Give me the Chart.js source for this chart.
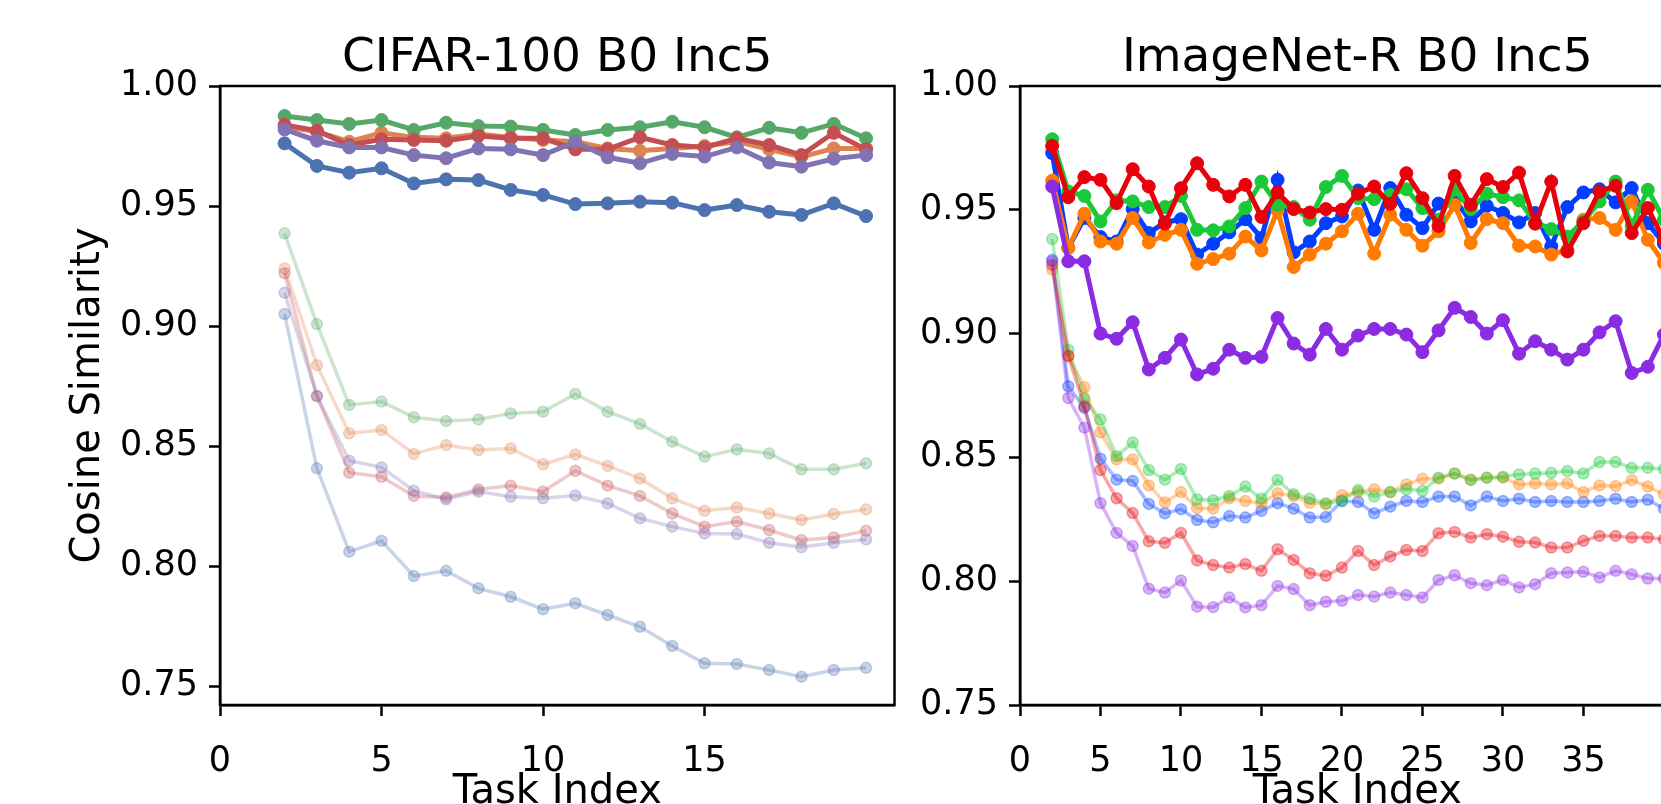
<!DOCTYPE html>
<html>
<head>
<meta charset="utf-8">
<script src="https://cdn.jsdelivr.net/npm/chart.js@4.4.1/dist/chart.umd.min.js"></script>
<style>
    html, body { margin: 0; padding: 0; background: #fff; overflow: hidden; width: 1661px; height: 804px; }
    canvas { position: absolute; top: 0; }
    #cifarChart { left: 0; }
    #imnetChart { left: 910px; }
</style>
</head>
<body>
<canvas id="cifarChart" width="910" height="804"></canvas>
<canvas id="imnetChart" width="840" height="804"></canvas>
<script>
// ---- data ----
const cifarTasks = [2, 3, 4, 5, 6, 7, 8, 9, 10, 11, 12, 13, 14, 15, 16, 17, 18, 19, 20];
const imnetTasks = [2, 3, 4, 5, 6, 7, 8, 9, 10, 11, 12, 13, 14, 15, 16, 17, 18, 19, 20, 21,
                    22, 23, 24, 25, 26, 27, 28, 29, 30, 31, 32, 33, 34, 35, 36, 37, 38, 39, 40];

const yTicks = [0.75, 0.80, 0.85, 0.90, 0.95, 1.00];
const cifarXTicks = [0, 5, 10, 15];
const imnetXTicks = [0, 5, 10, 15, 20, 25, 30, 35];

// CIFAR-100, current task (solid)
const cifarBlue   = [0.9761, 0.9667, 0.9639, 0.9657, 0.9594, 0.9611, 0.9608, 0.9567, 0.9546, 0.9508, 0.9511, 0.9518, 0.9514, 0.9483, 0.9504, 0.9476, 0.9463, 0.9511, 0.9458];
const cifarOrange = [0.9830, 0.9810, 0.9768, 0.9805, 0.9786, 0.9782, 0.9800, 0.9786, 0.9775, 0.9768, 0.9740, 0.9730, 0.9740, 0.9750, 0.9768, 0.9736, 0.9705, 0.9740, 0.9740];
const cifarGreen  = [0.9875, 0.9858, 0.9842, 0.9858, 0.9817, 0.9847, 0.9833, 0.9831, 0.9817, 0.9796, 0.9817, 0.9828, 0.9851, 0.9828, 0.9786, 0.9826, 0.9805, 0.9842, 0.9782];
const cifarRed    = [0.9838, 0.9814, 0.9754, 0.9778, 0.9775, 0.9772, 0.9792, 0.9782, 0.9782, 0.9736, 0.9736, 0.9786, 0.9754, 0.9744, 0.9782, 0.9754, 0.9712, 0.9805, 0.9736];
const cifarPurple = [0.9819, 0.9772, 0.9744, 0.9744, 0.9712, 0.9699, 0.9740, 0.9736, 0.9712, 0.9768, 0.9703, 0.9678, 0.9717, 0.9706, 0.9744, 0.9681, 0.9664, 0.9697, 0.9712];

// CIFAR-100, faded series
const cifarBlueOld   = [0.9050, 0.8407, 0.8060, 0.8105, 0.7958, 0.7980, 0.7907, 0.7872, 0.7820, 0.7845, 0.7796, 0.7747, 0.7667, 0.7595, 0.7592, 0.7567, 0.7539, 0.7567, 0.7576];
const cifarOrangeOld = [0.9240, 0.8837, 0.8553, 0.8567, 0.8467, 0.8504, 0.8483, 0.8490, 0.8424, 0.8465, 0.8417, 0.8365, 0.8282, 0.8230, 0.8244, 0.8219, 0.8192, 0.8217, 0.8236];
const cifarGreenOld  = [0.9386, 0.9008, 0.8671, 0.8685, 0.8620, 0.8604, 0.8611, 0.8636, 0.8643, 0.8717, 0.8643, 0.8592, 0.8518, 0.8456, 0.8486, 0.8469, 0.8403, 0.8403, 0.8428];
const cifarRedOld    = [0.9220, 0.8708, 0.8389, 0.8372, 0.8292, 0.8286, 0.8319, 0.8335, 0.8310, 0.8397, 0.8335, 0.8292, 0.8219, 0.8164, 0.8185, 0.8150, 0.8108, 0.8119, 0.8147];
const cifarPurpleOld = [0.9139, 0.8708, 0.8439, 0.8411, 0.8314, 0.8278, 0.8310, 0.8289, 0.8282, 0.8294, 0.8261, 0.8199, 0.8164, 0.8136, 0.8133, 0.8097, 0.8078, 0.8097, 0.8111];

// ImageNet-R, current task (solid)
const imnetBlue = [0.9729, 0.9346, 0.9467, 0.9390, 0.9372, 0.9503, 0.9406, 0.9449, 0.9462, 0.9319, 0.9363, 0.9409,
                   0.9462, 0.9386, 0.9621, 0.9328, 0.9372, 0.9446, 0.9473, 0.9578, 0.9419, 0.9588, 0.9480, 0.9426, 0.9525,
                   0.9543, 0.9453, 0.9516, 0.9487, 0.9449, 0.9487, 0.9352, 0.9511, 0.9570, 0.9583, 0.9530, 0.9588, 0.9446, 0.9363];
const imnetOrange = [0.9618, 0.9346, 0.9484, 0.9372, 0.9363, 0.9467, 0.9368, 0.9399, 0.9419, 0.9282, 0.9301, 0.9323,
                     0.9392, 0.9336, 0.9497, 0.9269, 0.9319, 0.9363, 0.9413, 0.9484, 0.9323, 0.9480, 0.9419, 0.9355, 0.9413,
                     0.9520, 0.9366, 0.9462, 0.9446, 0.9355, 0.9352, 0.9319, 0.9339, 0.9460, 0.9467, 0.9419, 0.9534, 0.9379, 0.9285];
const imnetGreen = [0.9785, 0.9574, 0.9556, 0.9453, 0.9538, 0.9534, 0.9511, 0.9511, 0.9556, 0.9419, 0.9417, 0.9433,
                    0.9507, 0.9614, 0.9520, 0.9511, 0.9460, 0.9592, 0.9637, 0.9547, 0.9543, 0.9560, 0.9583, 0.9507, 0.9460,
                    0.9581, 0.9503, 0.9565, 0.9551, 0.9538, 0.9449, 0.9422, 0.9392, 0.9453, 0.9534, 0.9614, 0.9435, 0.9581, 0.9460];
const imnetRed = [0.9758, 0.9551, 0.9632, 0.9621, 0.9527, 0.9664, 0.9594, 0.9444, 0.9587, 0.9688, 0.9601, 0.9554,
                  0.9601, 0.9471, 0.9570, 0.9503, 0.9489, 0.9503, 0.9500, 0.9565, 0.9594, 0.9524, 0.9648, 0.9547, 0.9435,
                  0.9637, 0.9520, 0.9624, 0.9592, 0.9650, 0.9444, 0.9614, 0.9332, 0.9446, 0.9574, 0.9597, 0.9406, 0.9507, 0.9379];
const imnetPurple = [0.9594, 0.9292, 0.9292, 0.9000, 0.8979, 0.9046, 0.8855, 0.8902, 0.8976, 0.8835, 0.8858, 0.8935,
                     0.8902, 0.8906, 0.9063, 0.8960, 0.8915, 0.9019, 0.8935, 0.8992, 0.9019, 0.9019, 0.8996, 0.8925, 0.9013,
                     0.9104, 0.9067, 0.9000, 0.9054, 0.8919, 0.8969, 0.8935, 0.8895, 0.8935, 0.9005, 0.9050, 0.8841, 0.8866, 0.8996];

// ImageNet-R, faded series
const imnetBlueOld = [0.9298, 0.8787, 0.8700, 0.8495, 0.8410, 0.8405, 0.8312, 0.8274, 0.8291, 0.8247, 0.8238, 0.8263,
                      0.8257, 0.8284, 0.8315, 0.8293, 0.8257, 0.8259, 0.8324, 0.8320, 0.8274, 0.8301, 0.8324, 0.8320, 0.8342,
                      0.8342, 0.8306, 0.8342, 0.8324, 0.8333, 0.8320, 0.8324, 0.8320, 0.8320, 0.8324, 0.8333, 0.8320, 0.8329, 0.8293];
const imnetOrangeOld = [0.9258, 0.8912, 0.8783, 0.8601, 0.8492, 0.8492, 0.8387, 0.8318, 0.8360, 0.8295, 0.8293, 0.8335,
                        0.8324, 0.8315, 0.8355, 0.8344, 0.8317, 0.8310, 0.8347, 0.8360, 0.8371, 0.8360, 0.8391, 0.8414, 0.8414,
                        0.8435, 0.8411, 0.8418, 0.8418, 0.8391, 0.8395, 0.8391, 0.8395, 0.8360, 0.8387, 0.8384, 0.8408, 0.8382, 0.8351];
const imnetGreenOld = [0.9382, 0.8935, 0.8737, 0.8653, 0.8505, 0.8560, 0.8449, 0.8410, 0.8453, 0.8330, 0.8327, 0.8344,
                       0.8382, 0.8333, 0.8409, 0.8351, 0.8333, 0.8315, 0.8324, 0.8368, 0.8342, 0.8360, 0.8371, 0.8365, 0.8418,
                       0.8435, 0.8408, 0.8418, 0.8422, 0.8431, 0.8435, 0.8438, 0.8445, 0.8435, 0.8481, 0.8481, 0.8458, 0.8458, 0.8452];
const imnetRedOld = [0.9278, 0.8909, 0.8707, 0.8449, 0.8335, 0.8275, 0.8161, 0.8155, 0.8195, 0.8084, 0.8065, 0.8055,
                     0.8069, 0.8042, 0.8129, 0.8086, 0.8032, 0.8022, 0.8055, 0.8122, 0.8065, 0.8100, 0.8126, 0.8122, 0.8194,
                     0.8199, 0.8176, 0.8190, 0.8180, 0.8159, 0.8156, 0.8136, 0.8136, 0.8163, 0.8183, 0.8183, 0.8176, 0.8176, 0.8169];
const imnetPurpleOld = [0.9292, 0.8740, 0.8620, 0.8315, 0.8195, 0.8142, 0.7970, 0.7954, 0.8003, 0.7897, 0.7895, 0.7934,
                        0.7894, 0.7903, 0.7981, 0.7968, 0.7903, 0.7917, 0.7921, 0.7944, 0.7938, 0.7954, 0.7944, 0.7934, 0.8005,
                        0.8024, 0.7992, 0.7984, 0.8005, 0.7975, 0.7988, 0.8032, 0.8035, 0.8038, 0.8015, 0.8042, 0.8028, 0.8011, 0.8011];

// seaborn "deep" on the left, "bright" on the right
const deepColors   = ['#4c72b0', '#dd8452', '#55a868', '#c44e52', '#8172b3'];
const brightColors = ['#023eff', '#ff7c00', '#1ac938', '#e8000b', '#8b2be2'];

const FONT = '"DejaVu Sans", sans-serif';
Chart.defaults.font.family = FONT;
Chart.defaults.color = '#000';

function rgba(hex, a) {
    const n = parseInt(hex.slice(1), 16);
    return `rgba(${(n >> 16) & 255}, ${(n >> 8) & 255}, ${n & 255}, ${a})`;
}

function series(tasks, values) {
    return tasks.map((t, i) => ({ x: t, y: values[i] }));
}

// solid lines are drawn on top (lower order = drawn later)
function buildDatasets(tasks, solid, faded, colors, fadeAlpha) {
    const sets = [];
    solid.forEach((vals, i) => {
        sets.push({
            data: series(tasks, vals),
            borderColor: colors[i],
            backgroundColor: colors[i],
            borderWidth: 5,
            pointRadius: 6.5,
            pointBorderWidth: 1,
            pointBorderColor: colors[i],
            pointBackgroundColor: colors[i],
            order: 4 - i
        });
    });
    faded.forEach((vals, i) => {
        sets.push({
            data: series(tasks, vals),
            borderColor: rgba(colors[i], fadeAlpha),
            backgroundColor: rgba(colors[i], fadeAlpha),
            borderWidth: 3.5,
            pointRadius: 5.5,
            pointBorderWidth: 1.5,
            pointBorderColor: rgba(colors[i], fadeAlpha),
            pointBackgroundColor: rgba(colors[i], fadeAlpha),
            order: 9 - i
        });
    });
    return sets;
}

// frame (all four spines) + title and axis labels, matplotlib style
const figText = {
    id: 'figText',
    afterDraw(chart, args, opts) {
        const { ctx, chartArea: a } = chart;
        ctx.save();
        ctx.strokeStyle = '#000';
        ctx.lineWidth = 2.5;
        ctx.strokeRect(a.left, a.top, a.right - a.left, a.bottom - a.top);
        ctx.fillStyle = '#000';
        ctx.textAlign = 'center';
        ctx.textBaseline = 'alphabetic';
        const cx = (a.left + a.right) / 2;
        ctx.font = `47px ${FONT}`;
        ctx.fillText(opts.title, cx, 71);
        ctx.font = `40px ${FONT}`;
        ctx.fillText(opts.xLabel, cx, 803);
        if (opts.yLabel) {
            ctx.translate(opts.yLabelX, (a.top + a.bottom) / 2);
            ctx.rotate(-Math.PI / 2);
            ctx.fillText(opts.yLabel, 0, 0);
        }
        ctx.restore();
    }
};

function makeChart(canvasId, cfg) {
    const ctx = document.getElementById(canvasId).getContext('2d');
    return new Chart(ctx, {
        type: 'line',
        data: { datasets: cfg.datasets },
        options: {
            responsive: false,
            animation: false,
            events: [],
            devicePixelRatio: 1,
            layout: { padding: cfg.padding },
            elements: { line: { tension: 0 } },
            plugins: {
                legend: { display: false },
                tooltip: { enabled: false },
                figText: { title: cfg.title, xLabel: 'Task Index', yLabel: cfg.yLabel, yLabelX: cfg.yLabelX }
            },
            scales: {
                x: {
                    type: 'linear',
                    min: 0,
                    max: cfg.xMax,
                    afterBuildTicks: s => { s.ticks = cfg.xTicks.map(v => ({ value: v })); },
                    // tall box so the tick labels are not clipped
                    afterFit: s => { s.height = 99; },
                    ticks: { font: { size: 35 }, color: '#000', padding: 25, maxRotation: 0, autoSkip: false },
                    grid: { drawOnChartArea: false, tickLength: 11, tickWidth: 2.5, tickColor: '#000' },
                    border: { color: '#000', width: 2.5 }
                },
                y: {
                    min: cfg.yMin,
                    max: 1.0,
                    afterBuildTicks: s => { s.ticks = yTicks.map(v => ({ value: v })); },
                    afterFit: s => { s.width = cfg.yWidth; },
                    ticks: { font: { size: 35 }, color: '#000', padding: 11, callback: v => v.toFixed(2) },
                    grid: { drawOnChartArea: false, tickLength: 11, tickWidth: 2.5, tickColor: '#000' },
                    border: { color: '#000', width: 2.5 }
                }
            }
        },
        plugins: [figText]
    });
}

makeChart('cifarChart', {
    title: 'CIFAR-100 B0 Inc5',
    yLabel: 'Cosine Similarity',
    yLabelX: 99,
    xMax: 20.88,
    xTicks: cifarXTicks,
    yMin: 0.7421,
    yWidth: 120,
    padding: { left: 100, right: 15.5, top: 86, bottom: 0 },
    datasets: buildDatasets(cifarTasks,
        [cifarBlue, cifarOrange, cifarGreen, cifarRed, cifarPurple],
        [cifarBlueOld, cifarOrangeOld, cifarGreenOld, cifarRedOld, cifarPurpleOld],
        deepColors, 0.3)
});

makeChart('imnetChart', {
    title: 'ImageNet-R B0 Inc5',
    yLabel: null,
    xMax: 41.9,
    xTicks: imnetXTicks,
    yMin: 0.75,
    yWidth: 100,
    padding: { left: 10, right: 55.5, top: 86, bottom: 0 },
    datasets: buildDatasets(imnetTasks,
        [imnetBlue, imnetOrange, imnetGreen, imnetRed, imnetPurple],
        [imnetBlueOld, imnetOrangeOld, imnetGreenOld, imnetRedOld, imnetPurpleOld],
        brightColors, 0.35)
});
</script>
</body>
</html>
